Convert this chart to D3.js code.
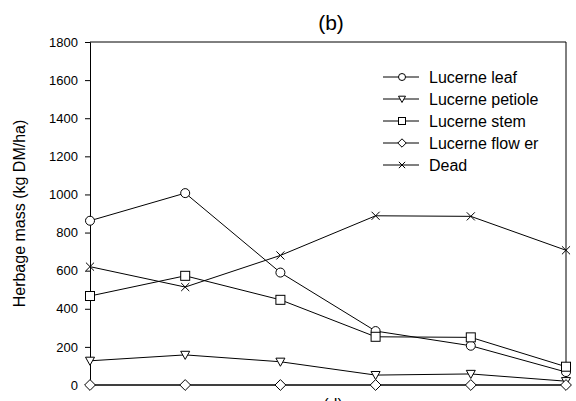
<!DOCTYPE html>
<html>
<head>
<meta charset="utf-8">
<script src="https://cdn.jsdelivr.net/npm/d3@7"></script>
<style>
  html, body { margin: 0; padding: 0; background: #fff; }
  svg { display: block; font-family: "Liberation Sans", Arial, sans-serif; }
</style>
</head>
<body>
<svg id="chart" width="576" height="401"></svg>
<script>
// Sampling occasions (x positions, unlabelled on the axis)
const harvests = ["H1", "H2", "H3", "H4", "H5", "H6"];

// Herbage mass by component (kg DM/ha)
const leaf    = [862, 1007, 590, 283, 206, 68];
const petiole = [127, 158, 122, 52, 58, 20];
const stem    = [467, 573, 447, 253, 250, 96];
const flower  = [0, 0, 0, 0, 0, 0];
const dead    = [621, 514, 680, 888, 885, 707];

const seriesNames = ["Lucerne leaf", "Lucerne petiole", "Lucerne stem", "Lucerne flow er", "Dead"];
const seriesSymbols = ["circle", "triangle", "square", "diamond", "cross"];
const yTicks = [0, 200, 400, 600, 800, 1000, 1200, 1400, 1600, 1800];

const series = [leaf, petiole, stem, flower, dead].map((v, i) => ({
  name: seriesNames[i], symbol: seriesSymbols[i], values: v
}));

const svg = d3.select("#chart");
const plotLeft = 90, plotRight = 566, plotTop = 42, plotBottom = 385;

const x = d3.scalePoint().domain(harvests).range([plotLeft, plotRight]);
const y = d3.scaleLinear().domain([0, 1800]).range([plotBottom, plotTop]);

// Frame: top and right edges
svg.append("path")
  .attr("d", `M${plotLeft},${plotTop}H${plotRight}V${plotBottom}`)
  .attr("fill", "none").attr("stroke", "#000").attr("stroke-width", 1);

// Bottom axis line (no tick labels)
svg.append("line")
  .attr("x1", plotLeft).attr("x2", plotRight).attr("y1", plotBottom).attr("y2", plotBottom)
  .attr("stroke", "#000");

// Left axis
const yAxis = svg.append("g")
  .attr("transform", `translate(${plotLeft},0)`)
  .call(d3.axisLeft(y).tickValues(yTicks).tickFormat(d3.format("d"))
    .tickSize(5).tickPadding(7));
yAxis.select(".domain").attr("stroke", "#000");
yAxis.selectAll(".tick line").attr("stroke", "#000");
yAxis.selectAll("text").attr("font-size", 13).attr("fill", "#000")
  .attr("font-family", "Liberation Sans, Arial, sans-serif");

// Marker drawing
function marker(g, symbol, cx, cy, s) {
  if (symbol === "circle") {
    g.append("circle").attr("cx", cx).attr("cy", cy).attr("r", s * 0.5)
      .attr("fill", "#fff").attr("stroke", "#000");
  } else if (symbol === "square") {
    g.append("rect").attr("x", cx - s / 2).attr("y", cy - s / 2)
      .attr("width", s).attr("height", s)
      .attr("fill", "#fff").attr("stroke", "#000");
  } else if (symbol === "triangle") {
    const h = s * 0.5;
    g.append("path")
      .attr("d", `M${cx - h},${cy - h * 0.8}L${cx + h},${cy - h * 0.8}L${cx},${cy + h}Z`)
      .attr("fill", "#fff").attr("stroke", "#000");
  } else if (symbol === "diamond") {
    const h = s * 0.6;
    g.append("path")
      .attr("d", `M${cx},${cy - h}L${cx + h},${cy}L${cx},${cy + h}L${cx - h},${cy}Z`)
      .attr("fill", "#fff").attr("stroke", "#000");
  } else if (symbol === "cross") {
    const h = s * 0.45;
    g.append("path")
      .attr("d", `M${cx - h},${cy - h}L${cx + h},${cy + h}M${cx - h},${cy + h}L${cx + h},${cy - h}`)
      .attr("fill", "none").attr("stroke", "#000");
  }
}

const line = d3.line().x((d, i) => x(harvests[i])).y(d => y(d));

const plot = svg.append("g");
series.forEach(s => {
  plot.append("path").datum(s.values)
    .attr("d", line).attr("fill", "none").attr("stroke", "#000").attr("stroke-width", 1);
});
series.forEach(s => {
  const g = plot.append("g");
  s.values.forEach((v, i) => marker(g, s.symbol, x(harvests[i]), y(v), 9));
});

// Legend
const legend = svg.append("g");
series.forEach((s, i) => {
  const ly = 77 + i * 22;
  legend.append("line").attr("x1", 383).attr("x2", 419).attr("y1", ly).attr("y2", ly)
    .attr("stroke", "#000");
  marker(legend, s.symbol, 402, ly, 7);
  legend.append("text").attr("x", 429).attr("y", ly).attr("dy", "0.36em")
    .attr("font-size", 16).attr("fill", "#000").text(s.name);
});

// Title
svg.append("text").attr("x", 331).attr("y", 30).attr("text-anchor", "middle")
  .attr("font-size", 21).attr("fill", "#000").text("(b)");

// Axis titles
svg.append("text")
  .attr("transform", `translate(25,${(plotTop + plotBottom) / 2}) rotate(-90)`)
  .attr("text-anchor", "middle")
  .attr("font-size", 16).attr("fill", "#000")
  .text("Herbage mass (kg DM/ha)");

// x-axis title, partly clipped by the bottom edge of the canvas
svg.append("text").attr("x", 333).attr("y", 410).attr("text-anchor", "middle")
  .attr("font-size", 16).attr("fill", "#000").text("(d)");
</script>
</body>
</html>
